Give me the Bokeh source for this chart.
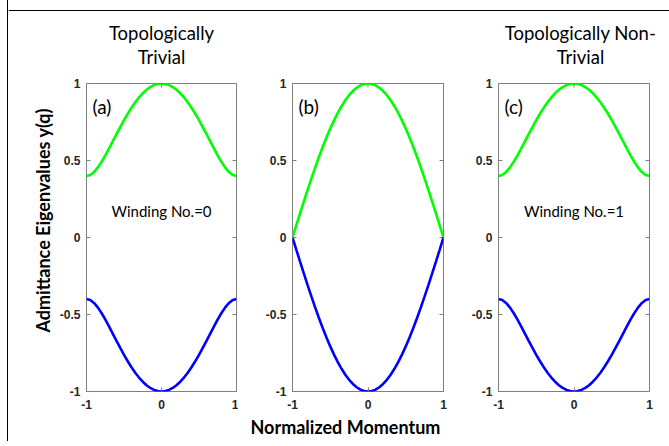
from bokeh.plotting import figure
from bokeh.models import Range1d, FixedTicker, Label, Title, Span
from bokeh.layouts import row, column
from bokeh.embed import file_html
from bokeh.resources import INLINE

# ---------------- data ----------------
q = [-1.00, -0.95, -0.90, -0.85, -0.80, -0.75, -0.70, -0.65, -0.60, -0.55,
     -0.50, -0.45, -0.40, -0.35, -0.30, -0.25, -0.20, -0.15, -0.10, -0.05,
     0.00, 0.05, 0.10, 0.15, 0.20, 0.25, 0.30, 0.35, 0.40, 0.45,
     0.50, 0.55, 0.60, 0.65, 0.70, 0.75, 0.80, 0.85, 0.90, 0.95, 1.00]

a_upper = [0.4000, 0.4064, 0.4249, 0.4536, 0.4901, 0.5320, 0.5772, 0.6240, 0.6710, 0.7172,
           0.7616, 0.8036, 0.8425, 0.8779, 0.9093, 0.9365, 0.9591, 0.9768, 0.9897, 0.9974,
           1.0000, 0.9974, 0.9897, 0.9768, 0.9591, 0.9365, 0.9093, 0.8779, 0.8425, 0.8036,
           0.7616, 0.7172, 0.6710, 0.6240, 0.5772, 0.5320, 0.4901, 0.4536, 0.4249, 0.4064, 0.4000]
a_lower = [-0.4000, -0.4064, -0.4249, -0.4536, -0.4901, -0.5320, -0.5772, -0.6240, -0.6710, -0.7172,
           -0.7616, -0.8036, -0.8425, -0.8779, -0.9093, -0.9365, -0.9591, -0.9768, -0.9897, -0.9974,
           -1.0000, -0.9974, -0.9897, -0.9768, -0.9591, -0.9365, -0.9093, -0.8779, -0.8425, -0.8036,
           -0.7616, -0.7172, -0.6710, -0.6240, -0.5772, -0.5320, -0.4901, -0.4536, -0.4249, -0.4064, -0.4000]

b_upper = [0.0000, 0.0785, 0.1564, 0.2334, 0.3090, 0.3827, 0.4540, 0.5225, 0.5878, 0.6494,
           0.7071, 0.7604, 0.8090, 0.8526, 0.8910, 0.9239, 0.9511, 0.9724, 0.9877, 0.9969,
           1.0000, 0.9969, 0.9877, 0.9724, 0.9511, 0.9239, 0.8910, 0.8526, 0.8090, 0.7604,
           0.7071, 0.6494, 0.5878, 0.5225, 0.4540, 0.3827, 0.3090, 0.2334, 0.1564, 0.0785, 0.0000]
b_lower = [-0.0000, -0.0785, -0.1564, -0.2334, -0.3090, -0.3827, -0.4540, -0.5225, -0.5878, -0.6494,
           -0.7071, -0.7604, -0.8090, -0.8526, -0.8910, -0.9239, -0.9511, -0.9724, -0.9877, -0.9969,
           -1.0000, -0.9969, -0.9877, -0.9724, -0.9511, -0.9239, -0.8910, -0.8526, -0.8090, -0.7604,
           -0.7071, -0.6494, -0.5878, -0.5225, -0.4540, -0.3827, -0.3090, -0.2334, -0.1564, -0.0785, -0.0000]

c_upper = [0.4000, 0.4064, 0.4249, 0.4536, 0.4901, 0.5320, 0.5772, 0.6240, 0.6710, 0.7172,
           0.7616, 0.8036, 0.8425, 0.8779, 0.9093, 0.9365, 0.9591, 0.9768, 0.9897, 0.9974,
           1.0000, 0.9974, 0.9897, 0.9768, 0.9591, 0.9365, 0.9093, 0.8779, 0.8425, 0.8036,
           0.7616, 0.7172, 0.6710, 0.6240, 0.5772, 0.5320, 0.4901, 0.4536, 0.4249, 0.4064, 0.4000]
c_lower = [-0.4000, -0.4064, -0.4249, -0.4536, -0.4901, -0.5320, -0.5772, -0.6240, -0.6710, -0.7172,
           -0.7616, -0.8036, -0.8425, -0.8779, -0.9093, -0.9365, -0.9591, -0.9768, -0.9897, -0.9974,
           -1.0000, -0.9974, -0.9897, -0.9768, -0.9591, -0.9365, -0.9093, -0.8779, -0.8425, -0.8036,
           -0.7616, -0.7172, -0.6710, -0.6240, -0.5772, -0.5320, -0.4901, -0.4536, -0.4249, -0.4064, -0.4000]

x_ticks = [-1, 0, 1]
x_tick_labels = ["-1", "0", "1"]
y_ticks = [-1, -0.5, 0, 0.5, 1]
y_tick_labels = ["-1", "-0.5", "0", "0.5", "1"]

panel_tags = ["(a)", "(b)", "(c)"]
winding_texts = ["Winding No.=0", "Winding No.=1"]
title_a = ["Topologically", "Trivial"]
title_c = ["Topologically Non-", "Trivial"]
y_label = "Admittance Eigenvalues y(q)"
x_label = "Normalized Momentum"

GREEN = "#00ff00"
BLUE = "#0000ff"
FRAME = "#808080"
TICKTXT = "#262626"
FONT = "Lato"
TICKFONT = "Liberation Sans"

HEADER_W, HEADER_H = 661, 73


def style_axis(ax, ticks, labels, standoff):
    ax.ticker = FixedTicker(ticks=ticks)
    ax.major_label_overrides = {t: s for t, s in zip(ticks, labels)}
    ax.axis_line_color = None
    ax.major_tick_in = 4
    ax.major_tick_out = 0
    ax.major_tick_line_color = FRAME
    ax.minor_tick_line_color = None
    ax.major_label_text_font = TICKFONT
    ax.major_label_text_font_style = "bold"
    ax.major_label_text_color = TICKTXT
    ax.major_label_text_font_size = "12px"
    ax.major_label_standoff = standoff


def make_panel(border_left, border_right, upper, lower, tag, frame_w):
    p = figure(frame_width=frame_w, frame_height=308,
               min_border_left=border_left, min_border_right=border_right,
               min_border_top=10, min_border_bottom=50,
               x_range=Range1d(-1, 1), y_range=Range1d(-1, 1),
               output_backend="svg", toolbar_location=None)
    p.xgrid.visible = False
    p.ygrid.visible = False
    p.outline_line_color = FRAME
    p.outline_line_width = 1
    p.background_fill_color = "white"
    p.border_fill_color = "white"
    style_axis(p.xaxis[0], x_ticks, x_tick_labels, 8)
    style_axis(p.yaxis[0], y_ticks, y_tick_labels, 6)

    # inner tick marks on the top and right edges of the box (half clipped by the frame)
    p.scatter(x=[1] * len(y_ticks), y=y_ticks, marker="dash", size=8,
              line_color=FRAME, line_width=1)
    p.scatter(x=x_ticks, y=[1] * len(x_ticks), marker="dash", size=8, angle=1.5708,
              line_color=FRAME, line_width=1)

    p.line(q, upper, line_color=GREEN, line_width=2.6)
    p.line(q, lower, line_color=BLUE, line_width=2.6)

    p.add_layout(Label(x=-0.92, y=0.85, text=tag, text_font=FONT,
                       text_font_size="19px", text_color="black",
                       text_align="left", text_baseline="middle"))
    return p


pa = make_panel(78, 2, a_upper, a_lower, panel_tags[0], 150)
pb = make_panel(54, 23, b_upper, b_lower, panel_tags[1], 151)
pc = make_panel(32, 20, c_upper, c_lower, panel_tags[2], 151)

# winding numbers
for p, t in ((pa, winding_texts[0]), (pc, winding_texts[1])):
    p.add_layout(Label(x=0, y=0.175, text=t, text_font=FONT, text_font_size="15px",
                       text_color="black", text_align="center", text_baseline="middle"))

# header strip that carries the two-line titles and the top edge of the figure box
header = figure(width=HEADER_W, height=HEADER_H, x_range=Range1d(0, HEADER_W),
                y_range=Range1d(0, HEADER_H), x_axis_location=None, y_axis_location=None,
                min_border=0, output_backend="svg", toolbar_location=None)
header.grid.visible = False
header.outline_line_color = None
header.background_fill_color = "white"
header.border_fill_color = "white"
header.add_layout(Span(location=HEADER_H - 10, dimension="width",
                       line_color="black", line_width=1))
for xc, lines in ((153, title_a), (572, title_c)):
    for yy, s in zip([40.5, 17], lines):
        header.add_layout(Label(x=xc, y=yy, text=s, text_font=FONT, text_font_size="18.5px",
                                text_color="black", text_align="center",
                                text_baseline="alphabetic"))

# axis titles
pa.add_layout(Title(text=y_label, align="left", offset=59, standoff=6,
                    text_font=FONT, text_font_size="18px", text_font_style="bold",
                    text_color="black"), "left")
pb.add_layout(Title(text=x_label, align="left", offset=-42, standoff=5,
                    text_font=FONT, text_font_size="18px", text_font_style="bold",
                    text_color="black"), "below")

layout = column(header, row(pa, pb, pc, spacing=0), spacing=0, margin=(0, 0, 0, 7),
                styles={"border-left": "1px solid black"})

open("out.html", "w").write(file_html(layout, INLINE))
